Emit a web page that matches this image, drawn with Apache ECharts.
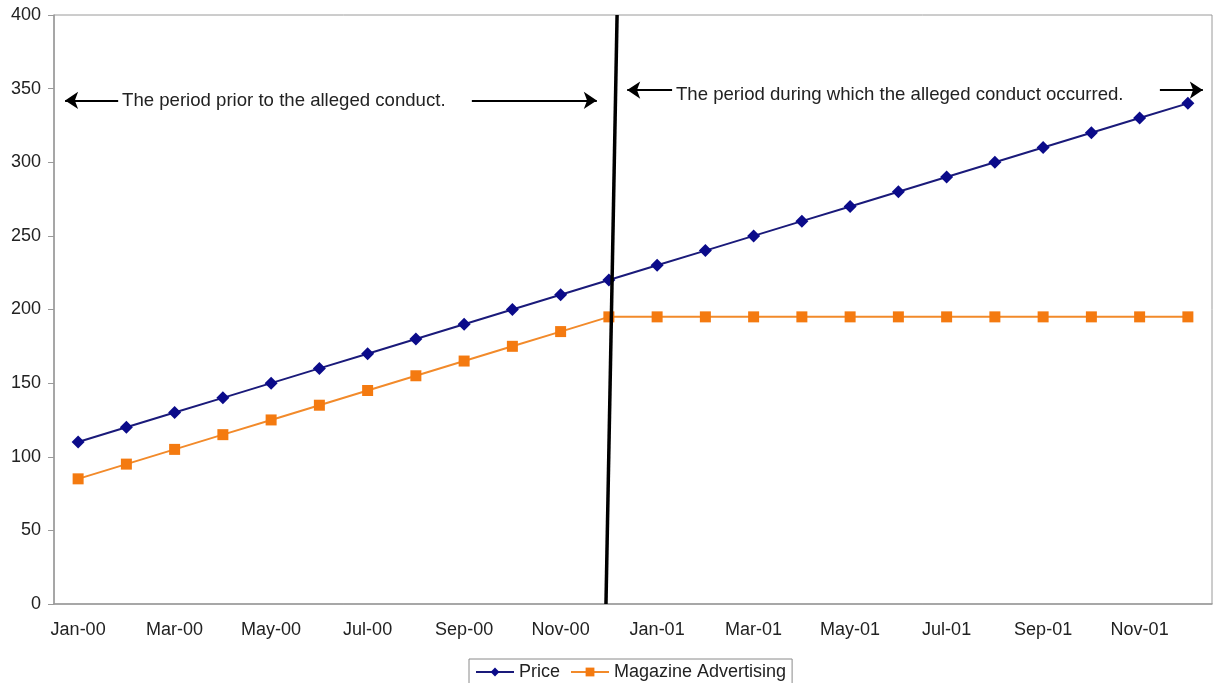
<!DOCTYPE html>
<html>
<head>
<meta charset="utf-8">
<script src="https://cdn.jsdelivr.net/npm/echarts@6/dist/echarts.min.js"></script>
<style>
  html, body { margin: 0; padding: 0; background: #fff; }
  #chart { width: 1213px; height: 683px; }
</style>
</head>
<body>
<div id="chart"></div>
<script>
// Monthly categories, Jan-00 through Dec-01
const months = ['Jan-00','Feb-00','Mar-00','Apr-00','May-00','Jun-00','Jul-00','Aug-00','Sep-00','Oct-00','Nov-00','Dec-00',
                'Jan-01','Feb-01','Mar-01','Apr-01','May-01','Jun-01','Jul-01','Aug-01','Sep-01','Oct-01','Nov-01','Dec-01'];
const price = [110,120,130,140,150,160,170,180,190,200,210,220,230,240,250,260,270,280,290,300,310,320,330,340];
const magazineAdvertising = [85,95,105,115,125,135,145,155,165,175,185,195,195,195,195,195,195,195,195,195,195,195,195,195];
const yTicks = [0, 400, 50];

// Divider between the two periods (x in month units along the axis, y in value units)
const divider = [[11.67, 400], [11.44, 0]];
// Period arrows: [fromX, toX, y]
const periodArrows = [[1.33, 0.23, 342], [8.66, 11.25, 342], [12.81, 11.88, 349], [22.92, 23.81, 349]];
// Period captions: [text, leftX, y]
const captions = [['The period prior to the alleged conduct.', 1.41, 342], ['The period during which the alleged conduct occurred.', 12.89, 346]];

const FONT = 'Liberation Sans, Arial, sans-serif';
const chart = echarts.init(document.getElementById('chart'));

chart.setOption({
  animation: false,
  backgroundColor: '#fff',
  textStyle: { fontFamily: FONT },
  grid: { left: 54, top: 15, right: 1, bottom: 79, show: true, borderColor: '#9a9a9a', borderWidth: 1 },
  legend: {
    bottom: -8, left: 469,
    data: ['Price', 'Magazine Advertising'],
    borderColor: '#8a8a8a', borderWidth: 1,
    padding: [4, 6, 10, 6],
    itemGap: 10, itemWidth: 38, itemHeight: 11,
    textStyle: { fontSize: 18, color: '#222', fontFamily: FONT }
  },
  xAxis: [{
    type: 'category', data: months, boundaryGap: true,
    axisLine: { lineStyle: { color: '#9a9a9a', width: 1.5 } },
    axisTick: { interval: 1, length: 5, lineStyle: { color: '#9a9a9a' } },
    axisLabel: { interval: 1, fontSize: 18, color: '#222', margin: 17, fontFamily: FONT },
    splitLine: { show: false }
  }, {
    type: 'value', min: 0, max: 24, show: false
  }],
  yAxis: {
    type: 'value', min: yTicks[0], max: yTicks[1], interval: yTicks[2],
    axisLine: { show: true, lineStyle: { color: '#9a9a9a', width: 1.5 } },
    axisTick: { show: true, length: 6, lineStyle: { color: '#9a9a9a' } },
    axisLabel: { fontSize: 18, color: '#222', margin: 13, fontFamily: FONT },
    splitLine: { show: false }
  },
  series: [{
    name: 'Price', type: 'line', data: price,
    symbol: 'diamond', symbolSize: 13,
    lineStyle: { color: '#1a1a7a', width: 2 },
    itemStyle: { color: '#0b0b8a' }
  }, {
    name: 'Magazine Advertising', type: 'line', data: magazineAdvertising,
    symbol: 'rect', symbolSize: 11,
    lineStyle: { color: '#f28a2a', width: 2 },
    itemStyle: { color: '#f47a10' }
  }, {
    name: 'divider', type: 'line', xAxisIndex: 1, data: divider,
    symbol: 'none', z: 5,
    lineStyle: { color: '#000', width: 3.5 },
    markLine: {
      silent: true,
      symbol: ['none', 'arrow'], symbolSize: [13, 13],
      lineStyle: { color: '#000', width: 2, type: 'solid' },
      label: { show: false },
      data: periodArrows.map(a => [{ coord: [a[0], a[2]] }, { coord: [a[1], a[2]] }])
    }
  }]
});

// Captions placed in data space next to their arrows
chart.setOption({
  graphic: captions.map(c => {
    const p = chart.convertToPixel({ xAxisIndex: 1, yAxisIndex: 0 }, [c[1], c[2]]);
    return {
      type: 'text', x: p[0], y: p[1],
      style: { text: c[0], font: '18.6px ' + FONT, fill: '#222', textVerticalAlign: 'middle', textAlign: 'left' }
    };
  })
});
</script>
</body>
</html>
